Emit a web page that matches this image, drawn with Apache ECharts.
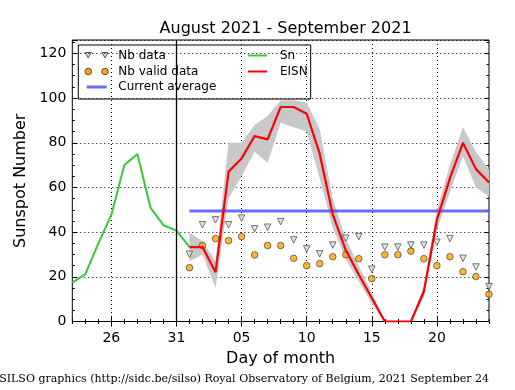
<!DOCTYPE html>
<html><head><meta charset="utf-8">
<script src="https://cdn.jsdelivr.net/npm/echarts@6/dist/echarts.min.js"></script>
<style>html,body{margin:0;padding:0;background:#fff}#c{width:515px;height:390px}</style>
</head><body><div id="c"></div>
<script>
// ---- data ----
const days = ['2021-08-23','2021-08-24','2021-08-25','2021-08-26','2021-08-27','2021-08-28','2021-08-29','2021-08-30','2021-08-31',
  '2021-09-01','2021-09-02','2021-09-03','2021-09-04','2021-09-05','2021-09-06','2021-09-07','2021-09-08','2021-09-09','2021-09-10',
  '2021-09-11','2021-09-12','2021-09-13','2021-09-14','2021-09-15','2021-09-16','2021-09-17','2021-09-18','2021-09-19','2021-09-20',
  '2021-09-21','2021-09-22','2021-09-23','2021-09-24'];
const tickDays = ['26','31','05','10','15','20'];
const monthStartMarker = '2021-08-31';
const snDays = ['2021-08-23','2021-08-24','2021-08-25','2021-08-26','2021-08-27','2021-08-28','2021-08-29','2021-08-30','2021-08-31','2021-09-01'];
const snValues = [17.4, 21.2, 35, 47.7, 70, 75, 51, 43.1, 40.7, 33.3];
const obsDays = days.slice(9);
const eisnValues = [33.3, 33.3, 22, 67, 73, 83, 81.5, 96, 96, 93, 75, 48, 32, 21, 10.5, 0, 0, 0, 13.4, 45.5, 64.2, 80, 68.2, 62.2];
const eisnUpper = [40, 36, 27, 80, 80, 88, 92, 99, 99, 98, 86, 55, 37, 25, 13, 0, 0, 0, 16, 50, 70, 87, 76, 68];
const eisnLower = [27, 30, 15, 55, 65, 76, 71, 89, 87, 85, 64, 42, 28, 18, 8, 0, 0, 0, 11, 41, 58, 74, 60, 56];
const nbData = [30.1, 43.3, 45.5, 43.3, 46.3, 41.5, 42.2, 44.7, 36.5, 32.5, 30.3, 34.2, 37.3, 38, 23.4, 33.3, 33.3, 34.2, 34.2, 35.5, 37.1, 28.3, 24.4, 15.6];
const nbValid = [24.1, 34, 37.1, 36.2, 38, 29.8, 34, 34, 28.3, 25, 25.9, 29, 29.9, 28.1, 19.2, 29.9, 29.9, 31.5, 28.1, 25, 29, 22.3, 20.1, 12.2];
const currentAverage = 49.5;
const yTicks = [0, 20, 40, 60, 80, 100, 120];

// ---- build ----
const FONT = "'DejaVu Sans', sans-serif";
const pair = (xs, ys) => xs.map((d, i) => [d, ys[i]]);
const isMajor = (idx, val) => tickDays.indexOf(val.slice(8)) >= 0;
const grid = {left: 72.3, right: 26, top: 40, bottom: 68.5, show: true, borderColor: '#000', borderWidth: 1, backgroundColor: '#fff'};
const dotted = {color: '#000', width: 1, type: [1, 3]};

function xAx(pos, major, main) {
  return {
    type: 'category', data: days, boundaryGap: false, position: pos, gridIndex: 0,
    axisLine: {show: false},
    axisTick: {show: true, inside: true, length: major ? 5 : 2.5, interval: major ? isMajor : 0, lineStyle: {color: '#000', width: 1}},
    axisLabel: {show: !!main, interval: isMajor, formatter: v => v.slice(8), fontSize: 14, color: '#000', fontFamily: FONT, margin: 10},
    splitLine: {show: !!main, interval: isMajor, lineStyle: dotted},
    name: main ? 'Day of month' : '', nameLocation: 'middle', nameGap: 29,
    nameTextStyle: {fontSize: 16, color: '#000', fontFamily: FONT}
  };
}
function yAx(pos, major, main) {
  return {
    type: 'value', min: 0, max: 126, interval: major ? 20 : 5, position: pos, gridIndex: 0,
    axisLine: {show: false},
    axisTick: {show: true, inside: true, length: major ? 5 : 2.5, lineStyle: {color: '#000', width: 1}},
    axisLabel: {show: !!main, formatter: v => (yTicks.indexOf(v) >= 0 ? String(v) : ''), fontSize: 14, color: '#000', fontFamily: FONT, margin: 6},
    splitLine: {show: !!main, lineStyle: dotted},
    name: main ? 'Sunspot Number' : '', nameLocation: 'middle', nameGap: 42, nameRotate: 90,
    nameTextStyle: {fontSize: 16, color: '#000', fontFamily: FONT}
  };
}

const bandDiff = eisnUpper.map((u, i) => u - eisnLower[i]);
const legendFont = '12px ' + FONT;
const tri = (cx, cy) => ({type: 'polygon', shape: {points: [[cx - 3, cy - 2.5], [cx + 3, cy - 2.5], [cx, cy + 3]]}, style: {fill: '#ddd', stroke: '#555', lineWidth: 1}});
const dot = (cx, cy) => ({type: 'circle', shape: {cx: cx, cy: cy, r: 3.3}, style: {fill: '#ffa500', stroke: '#333', lineWidth: 0.8}});
const txt = (x, y, t) => ({type: 'text', x: x, y: y, style: {text: t, font: legendFont, fill: '#000', verticalAlign: 'middle', textAlign: 'left'}});
const seg = (x1, x2, y, c, w) => ({type: 'line', shape: {x1: x1, y1: y, x2: x2, y2: y}, style: {stroke: c, lineWidth: w}});

const option = {
  animation: false,
  backgroundColor: '#fff',
  title: {text: 'August 2021 - September 2021', left: 280.6, top: 16, textAlign: 'center',
    textStyle: {fontSize: 16, fontWeight: 'normal', color: '#000', fontFamily: FONT}},
  grid: grid,
  xAxis: [xAx('bottom', true, true), xAx('bottom', false), xAx('top', true), xAx('top', false)],
  yAxis: [yAx('left', true, true), yAx('left', false), yAx('right', true), yAx('right', false)],
  series: [
    {name: 'bandLow', type: 'line', stack: 'band', data: pair(obsDays, eisnLower), symbol: 'none', silent: true,
      lineStyle: {opacity: 0}, z: 1},
    {name: 'band', type: 'line', stack: 'band', data: pair(obsDays, bandDiff), symbol: 'none', silent: true,
      lineStyle: {opacity: 0}, areaStyle: {color: '#c8c8c8', opacity: 1}, z: 1},
    {name: 'Current average', type: 'line', data: obsDays.map(d => [d, currentAverage]), symbol: 'none',
      lineStyle: {color: 'rgba(80,80,255,0.85)', width: 3}, z: 2},
    {name: 'Nb data', type: 'scatter', data: pair(obsDays, nbData), symbol: 'triangle', symbolRotate: 180, symbolSize: [6.5, 6.5],
      itemStyle: {color: '#ddd', borderColor: '#555', borderWidth: 1}, z: 3},
    {name: 'Nb valid data', type: 'scatter', data: pair(obsDays, nbValid), symbol: 'circle', symbolSize: 6.6,
      itemStyle: {color: '#ffa500', borderColor: '#333', borderWidth: 0.8}, z: 3},
    {name: 'Sn', type: 'line', data: pair(snDays, snValues), symbol: 'none',
      lineStyle: {color: '#33cc33', width: 2}, z: 4,
      markLine: {silent: true, symbol: 'none', label: {show: false}, data: [{xAxis: monthStartMarker}],
        lineStyle: {color: '#000', width: 1.3, type: 'solid'}}},
    {name: 'EISN', type: 'line', data: pair(obsDays, eisnValues), symbol: 'none',
      lineStyle: {color: '#ff0000', width: 2.2}, z: 5}
  ],
  graphic: [
    {type: 'group', z: 100, children: [
      {type: 'rect', shape: {x: 78.3, y: 45, width: 232.4, height: 54}, style: {fill: '#fff', stroke: '#000', lineWidth: 1}},
      tri(88.3, 55), tri(105, 55), txt(118.3, 55.5, 'Nb data'),
      dot(88.3, 71.5), dot(105, 71.5), txt(118.3, 71.5, 'Nb valid data'),
      seg(86.7, 106.7, 87, 'rgba(80,80,255,0.85)', 3), txt(118.3, 87, 'Current average'),
      seg(248, 267, 55.5, '#33cc33', 2), txt(280, 55.5, 'Sn'),
      seg(248, 267, 71.5, '#ff0000', 2), txt(280, 71.5, 'EISN')
    ]},
    {type: 'text', right: 26, top: 374, z: 100,
      style: {text: 'SILSO graphics (http://sidc.be/silso) Royal Observatory of Belgium, 2021 September 24',
        font: "11px 'DejaVu Serif', serif", fill: '#000'}}
  ]
};
const chart = echarts.init(document.getElementById('c'), null, {renderer: 'canvas'});
chart.setOption(option);
</script></body></html>
